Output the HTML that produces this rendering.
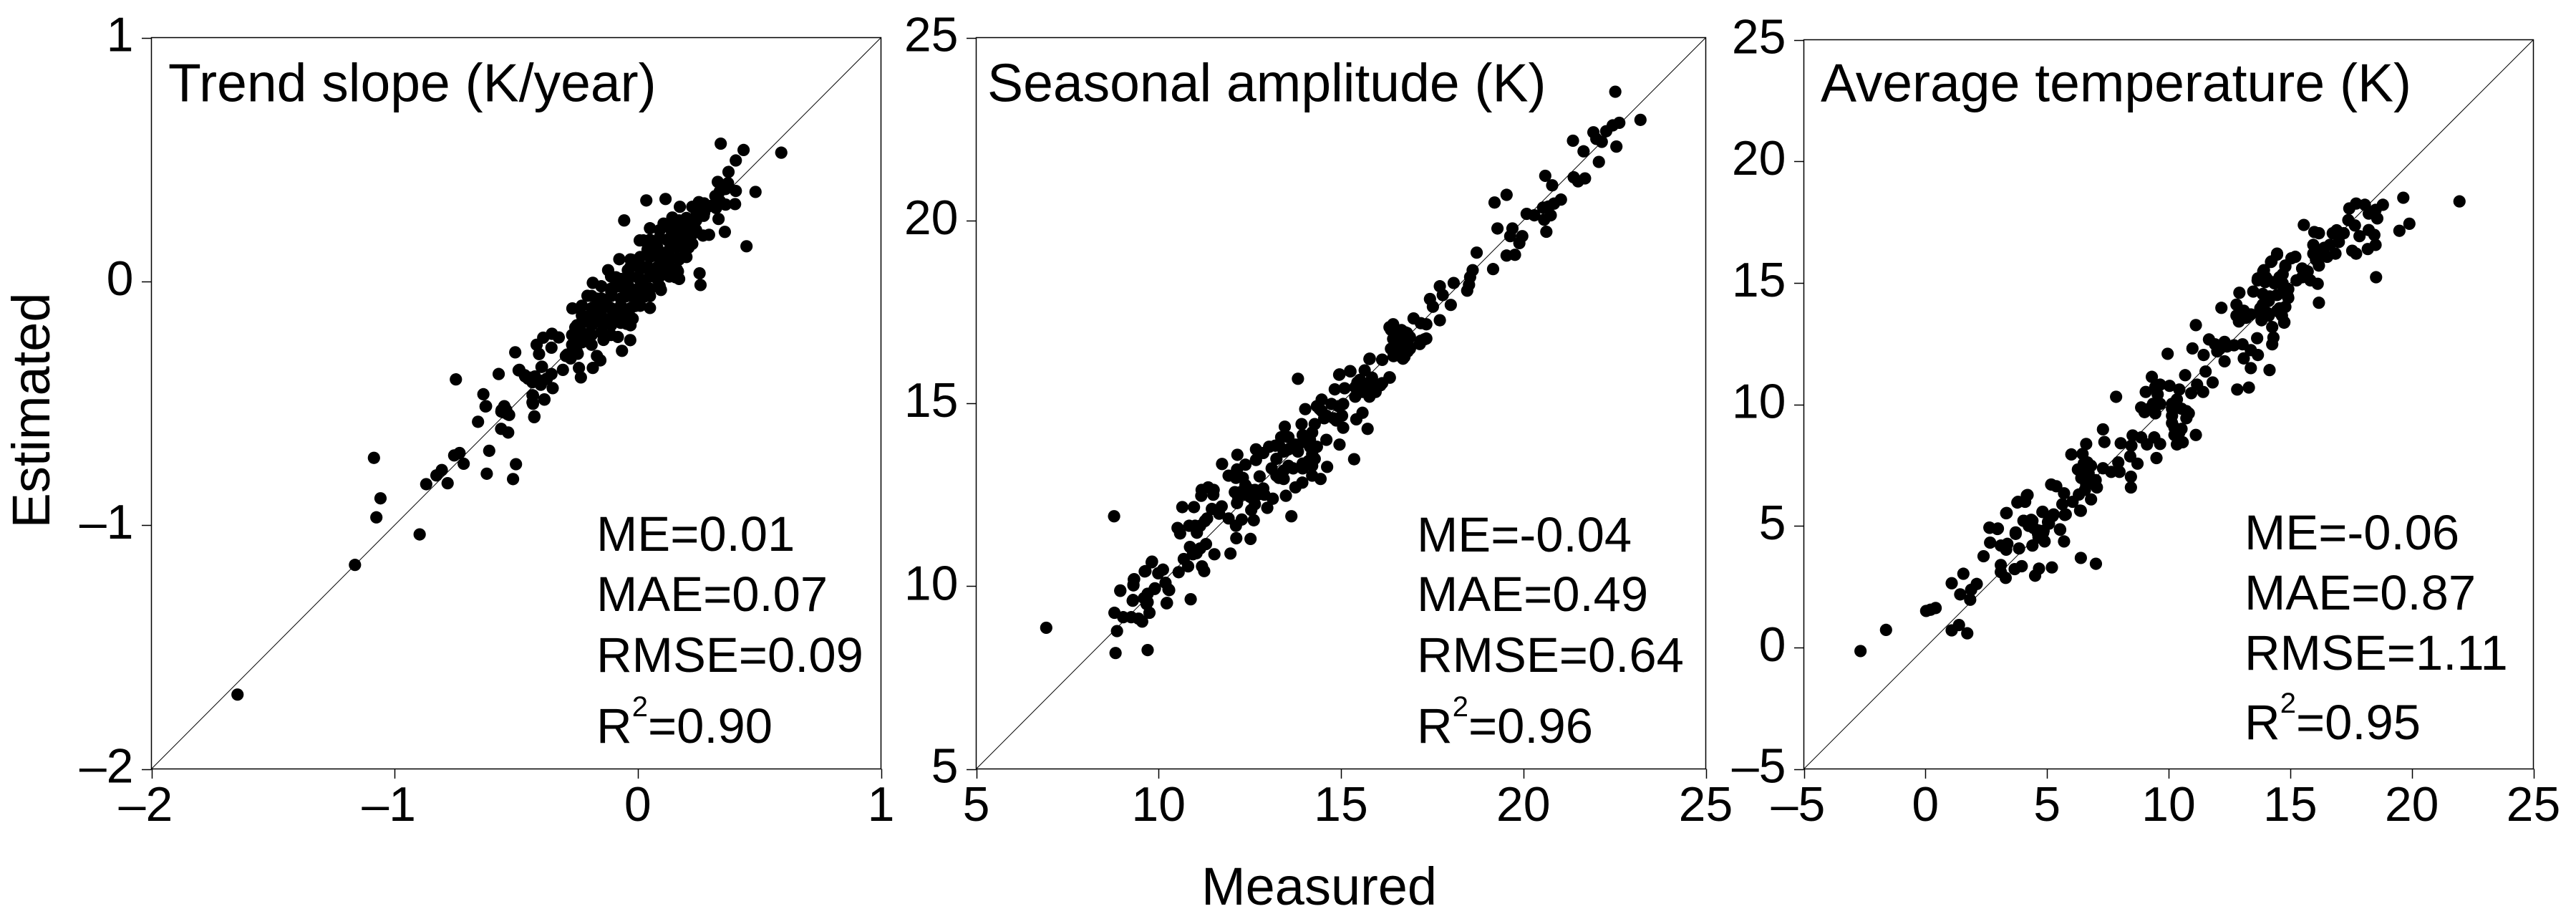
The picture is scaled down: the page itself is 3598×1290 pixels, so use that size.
<!DOCTYPE html>
<html lang="en">
<head>
<meta charset="utf-8">
<title>Measured vs estimated scatter plots</title>
<style>
html,body{margin:0;padding:0;background:#fff;width:3598px;height:1290px;overflow:hidden}
svg{display:block}
text{font-family:"Liberation Sans",Arial,sans-serif;fill:#000}
.title{font-size:75.1px}
.stat{font-size:68.8px}
.axis-title{font-size:74px}
</style>
</head>
<body>
<svg id="figure" width="3598" height="1290" viewBox="0 0 3598 1290" xmlns="http://www.w3.org/2000/svg">
<rect x="0" y="0" width="3598" height="1290" fill="#fff"/>
<g id="panel-trend"></g>
<g id="panel-season"></g>
<g id="panel-average"></g>

<text class="title" x="235" y="141.5">Trend slope (K/year)</text>
<text class="title" x="1379" y="141.5">Seasonal amplitude (K)</text>
<text class="title" x="2543" y="141.5">Average temperature (K)</text>

<g>
<text class="stat" x="833" y="769">ME=0.01</text>
<text class="stat" x="833" y="853">MAE=0.07</text>
<text class="stat" x="833" y="938">RMSE=0.09</text>
<text class="stat" x="833" y="1037">R<tspan font-size="40" dy="-37">2</tspan><tspan dy="37">=0.90</tspan></text>
</g>
<g>
<text class="stat" x="1979" y="770">ME=-0.04</text>
<text class="stat" x="1979" y="853">MAE=0.49</text>
<text class="stat" x="1979" y="938">RMSE=0.64</text>
<text class="stat" x="1979" y="1037">R<tspan font-size="40" dy="-37">2</tspan><tspan dy="37">=0.96</tspan></text>
</g>
<g>
<text class="stat" x="3135" y="767">ME=-0.06</text>
<text class="stat" x="3135" y="851">MAE=0.87</text>
<text class="stat" x="3135" y="935">RMSE=1.11</text>
<text class="stat" x="3135" y="1032">R<tspan font-size="40" dy="-37">2</tspan><tspan dy="37">=0.95</tspan></text>
</g>

<text class="axis-title" x="1678" y="1263">Measured</text>
<text class="axis-title" transform="translate(69 573) rotate(-90)" text-anchor="middle">Estimated</text>
</svg>

<script>
// ---- Trend slope (K/year) ----
const trendTicks = [-2, -1, 0, 1];
const trendMeasured = [
 -1.646,-1.163,-1.085,-1.058,-1.075,-.897,-.870,-.828,-.806,-.782,-.755,-.733,-.716,-.748,-.635,-.626,-.572,-.657,-.611,-.621,
 -.513,-.501,-.533,-.562,-.553,-.535,-.56,-.504,-.487,-.465,-.445,-.426,-.433,-.433,-.384,-.406,-.416,-.389,-.396,
 .341,.435,.590,.403,.373,.329,.371,.403,.484,.319,.337,.361,.400,.035,.114,.173,.251,.224,.273,.271,.332,.358,
 -.056,.142,.106,.050,.190,.165,.239,.008,.023,.293,.268,.447,.254,.258,.050,.095,.165,.155,.195,.209,.224,
 -.076,-.023,-.122,-.185,-.207,-.269,-.257,-.266,-.031,-.065,-.082,-.021,-.046,-.141,-.168,-.154,-.185,-.242,-.234,-.308,
 -.355,-.389,-.353,-.325,-.490,-.463,-.451,-.423,-.394,-.355,-.374,-.399,-.350,-.431,-.431,-.384,-.425,-.624,-.549,-.541,-.561,-.529,
 -.227,-.188,-.168,-.129,-.109,-.149,-.090,-.070,-.051,-.090,-.041,-.002,-.011,.028,.048,.008,.077,.126,.165,.087,.136,.175,.077,.136,.185,
 -.217,-.227,-.266,-.276,-.247,-.109,-.149,-.051,-.011,.028,-.090,-.041,.195,.126,.087,.126,.204,.273,.303,-.296,.224,
 .05,.09,.12,.17,.21, .04,.08,.13,.16,.20, -.03,.01,.05,.09,.12,.17,.2,
 -.03,.01,.04,.09,.13,.16, -.11,-.07,-.03,.01,.05,.08,.13,.17,
 -.15,-.11,-.07,-.03,.01,.05,.09, -.19,-.15,-.11,-.07,-.03,.01,.05, -.23,-.19,-.15,-.11,-.07,-.03,.01,
 -.23,-.19,-.15,-.11,-.07,-.03, -.25,-.23,-.19,-.15,-.11,-.07,-.03, -.27,-.23,-.19,-.15,-.11,
 -.27,-.23,-.19, -.29,-.25, .09,.13,.17,.2,.24, .17,.2,.24, .24,.28, -.433,.322,.361,.337
];
const trendEstimated = [
 -1.695,-1.163,-.724,-.890,-.968,-1.038,-.832,-.796,-.774,-.828,-.714,-.704,-.748,-.402,-.463,-.513,-.380,-.576,-.695,-.789,
 -.811,-.750,-.620,-.605,-.537,-.545,-.528,-.291,-.363,-.385,-.395,-.557,-.496,-.467,-.484,-.298,-.260,-.407,-.351,
 .565,.539,.528,.496,.449,.408,.403,.371,.367,.350,.330,.315,.317,.332,.338,.306,.325,.306,.320,.269,.256,.203,
 .250,.262,.237,.218,.237,.227,.262,.168,.168,.191,.188,.144,.033,-.015,-.109,-.035,.041,.017,.105,.139,.193,
 .091,.088,.046,-.006,-.059,-.111,-.189,-.223,-.241,-.285,-.228,-.153,-.174,-.240,-.306,-.324,-.355,-.355,-.394,-.363,
 -.272,-.231,-.215,-.230,-.365,-.390,-.399,-.390,-.350,-.380,-.399,-.424,-.438,-.468,-.502,-.485,-.554,-.512,-.512,-.527,-.534,-.548,
 -.159,-.120,-.071,-.101,-.042,-.150,-.140,-.101,-.062,-.022,-.013,.017,-.042,-.022,.046,.066,.056,.076,.095,.124,.154,.144,.164,.183,.203,
 -.218,-.248,-.277,-.316,-.297,-.179,-.208,-.120,-.101,-.062,.017,.046,.173,.115,.017,.036,.222,.281,.310,-.306,.154,
 .17,.18,.17,.18,.17, .13,.14,.13,.14,.13, .09,.1,.1,.09,.1,.09,.1,
 .06,.05,.06,.05,.06,.05, .02,.01,.02,.01,.02,.01,.02,.01,
 -.02,-.03,-.02,-.03,-.02,-.03,-.02, -.06,-.07,-.06,-.07,-.06,-.07,-.06, -.1,-.11,-.1,-.11,-.1,-.11,-.1,
 -.14,-.15,-.14,-.15,-.14,-.15, -.18,-.17,-.18,-.17,-.18,-.17,-.18, -.22,-.21,-.22,-.21,-.22,
 -.26,-.25,-.26, -.3,-.29, .21,.22,.21,.22,.21, .25,.26,.25, .29,.3, -.414,.301,.379,.369
];

// ---- Seasonal amplitude (K) ----
const seasonTicks = [5, 10, 15, 20, 25];
const seasonMeasured = [
 8.78,10.65,10.97,10.52,10.59,10.84,11.05,11.14,11.27,11.46,11.73,11.66,11.92,12.12,12.13,12.52,12.28,12.61,12.54,12.15,
 12.09,11.18,11.36,11.51,11.17,11.50,11.74,12.16,12.38,12.15,11.92,12.12,12.31,12.67,12.87,12.67,12.77,12.51,12.25,12.71,
 12.87,12.64,12.98,13.13,13.49,13.75,13.94,13.64,13.46,13.20,13.36,13.82,13.92,14.02,14.28,14.47,14.41,14.60,14.83,15.10,
 14.95,15.25,15.78,16.13,16.34,16.08,15.78,15.39,15.59,15.42,15.73,15.36,14.62,14.44,14.21,15.06,14.96,14.60,14.28,13.95,
 13.43,13.23,13.10,13.56,13.82,14.15,13.95,13.56,13.23,14.21,14.80,15.06,15.45,15.65,15.85,16.37,16.63,16.83,16.70,17.29,17.16,16.37,16.63,16.89,
 9.81,9.62,10.12,9.99,10.19,10.29,9.89,9.70,9.32,9.31,8.95,9.29,9.70,10.22,10.88,11.19,11.25,10.55,10.81,10.69,11.04,11.53,11.97,10.86,11.30,11.14,10.94,
 6.92,8.82,9.70,8.86,8.79,9.03,9.25,9.45,9.55,9.75,9.67,9.30,8.95,9.33,9.31,9.64,9.82,10.23,10.27,9.90,9.60,
 22.52,23.21,22.63,22.45,22.27,21.92,22.0,22.15,22.55,21.36,21.65,22.07,21.38,21.50,21.69,20.6,20.79,21.03,20.84,20.69,20.54,20.09,20.30,20.75,20.57,20.63,
 19.21,19.54,19.29,19.70,19.64,19.97,19.89,19.54,19.77,19.17,18.72,18.61,18.54,18.51,18.46,18.09,17.71,17.44,17.79,18.01,17.52,17.71,17.34,16.99,17.19,17.34,17.19,
 16.89,16.74,16.51,16.33,16.43,16.66,16.81,16.43,16.66,16.33,16.13,15.79,16.13,14.96,15.26,
 15.52,15.72,15.39,15.59,15.85,15.95, 14.47,14.74,14.93,15.03,14.87,14.34,14.54,
 13.30,13.56,13.75,13.95,14.15,13.43,13.03,14.34,14.21, 13.95,13.69,13.43,14.21,13.30,14.11,
 12.38,12.51,12.64,12.18,12.90,12.38, 16.5,16.70,16.76,16.50,16.83,16.44,16.89, 11.0,11.33
];
const seasonEstimated = [
 11.91,12.16,12.16,11.59,11.44,11.65,11.46,11.65,11.78,12.11,12.18,11.98,11.85,11.65,11.31,11.29,11.82,11.80,12.08,12.27,
 12.57,12.63,12.70,12.63,12.47,12.50,13.34,13.59,13.32,13.19,13.02,12.96,12.96,13.74,13.64,13.45,13.00,12.63,12.57,12.50,
 12.67,12.24,12.14,12.39,12.47,12.70,12.83,11.91,14.36,13.84,14.07,15.67,14.43,14.84,14.43,15.10,14.85,14.66,15.38,15.41,
 15.78,15.88,16.21,16.19,15.70,15.49,15.18,15.18,14.74,14.56,14.30,13.47,13.26,12.93,13.02,14.33,13.87,14.00,13.48,13.35,
 12.93,13.02,13.22,13.29,13.68,13.81,13.94,13.74,13.48,14.2,14.59,14.98,15.57,15.90,15.44,16.49,16.29,16.42,16.22,16.75,16.62,17.01,16.81,16.81,
 10.65,10.40,10.45,10.35,10.09,9.89,9.92,9.79,10.18,10.02,9.87,9.60,9.56,9.53,9.64,10.54,10.41,10.38,10.54,10.74,10.90,10.87,10.89,11.07,11.15,11.03,10.87,
 8.86,8.17,8.25,8.77,9.27,9.15,9.15,9.11,9.03,9.27,9.51,9.62,9.88,10.19,10.04,10.41,10.67,9.54,9.91,9.94,9.67,
 23.52,22.75,22.67,22.6,22.44,22.41,22.23,22.15,22.02,22.18,21.89,21.60,21.18,21.07,21.15,21.22,20.96,20.57,20.46,20.38,20.35,20.18,20.14,20.14,20.02,19.69,
 20.49,20.70,19.78,19.78,19.57,19.57,19.38,19.04,19.06,18.67,19.12,18.64,18.45,18.24,18.08,18.29,18.2,17.85,17.96,17.69,17.64,17.27,17.16,17.32,17.19,16.77,16.71,
 16.51,16.27,16.35,17.08,17.16,17.0,16.92,16.76,16.68,15.71,16.19,16.22,15.55,15.79,15.87,
 15.64,15.51,15.44,15.31,15.70,15.31, 14.79,14.98,14.92,14.66,14.53,14.92,14.59,
 13.87,14.07,13.87,14.13,14.0,13.68,13.81,13.81,13.61, 13.22,13.22,13.16,13.29,12.96,13.42,
 12.50,12.44,12.63,12.44,12.50,12.76, 16.81,16.55,16.94,16.55,16.68,16.29,16.49, 11.65,11.85
];

// ---- Average temperature (K) ----
const averageTicks = [-5, 0, 5, 10, 15, 20, 25];
const averageMeasured = [
 14.46,14.80,14.21,13.92,13.67,13.48,12.91,12.17,11.12,10.98,11.44,9.96,7.84,7.30,7.36,6.61,8.03,6.0,6.46,6.66,
 6.27,6.71,6.81,7.30,7.64,7.98,7.93,7.05,6.81,6.31,6.56,8.45,8.45,9.50,8.72,8.42,8.47,8.52,8.87,9.11,
 9.41,9.65,10.34,10.58,10.24,11.12,10.53,10.14,10.73,10.73,10.14,9.45,9.01,8.87,9.06,9.31,9.65,10.04,10.68,10.44,
 10.93,11.17,11.42,11.81,11.52,11.66,12.0,12.30,12.30,12.69,13.04,13.38,14.15,12.82,13.30,13.09,13.67,13.38,13.64,14.26,
 14.31,14.26,13.82,14.75,12.79,13.09,12.89,13.38,13.87,14.16,14.36,14.66,14.90,14.56,15.05,
 4.20,3.81,4.1,3.34,5.17,5.38,5.70,5.63,5.23,5.73,6.05,6.36,4.82,4.35,4.04,2.63,2.98,3.71,5.04,5.53,4.65,
 -2.67,-1.62,.03,.21,.42,1.08,1.38,1.72,1.08,1.56,1.43,2.11,1.88,1.84,2.39,2.64,2.96,2.66,3.10,3.37,3.32,3.32,
 3.10,3.10,3.30,3.67,3.96,3.85,3.71,4.03,4.40,3.78,4.17,4.51,4.67,5.20,6.39,7.01,5.70,5.54,4.40,4.90,4.81,4.86,4.63,5.27,5.08,5.77,6.39,
 21.96,19.65,19.90,19.49,18.53,16.18,18.81,18.51,17.43,17.71,18.07,18.58,17.39,17.66,18.23,18.23,18.46,17.85,17.55,18.19,18.51,17.71,
 15.56,15.99,16.18,16.75,16.91,17.2,17.0,16.52,16.86,15.95,16.4,16.06,15.72,16.18,15.83,16.13,15.26,15.49,15.21,14.8,14.46,14.23,13.89,13.66,14.69,14.92,14.76,
 6.61,6.41,6.71,7.0,6.51,6.81,6.61, 13.97,13.87,13.77,14.07,14.66,14.07,14.75,14.07,14.46,14.56,
 10.14,10.53,10.44,10.24,10.83,10.34,10.14, 9.36,9.55,9.21,9.65,9.45, 12.1,12.4,11.91, 12.99,13.18,12.79,
 4.45,4.25,4.84,4.65, 16.29,16.63,15.95,15.49, 14.35,14.46,14.69,14.0,14.92,14.58,14.8,14.12,14.12,13.77
];
const averageEstimated = [
 16.16,15.67,15.86,15.52,15.18,14.64,14.59,13.97,13.26,12.30,12.03,12.08,10.31,8.97,8.45,8.37,8.40,7.94,7.96,7.61,
 7.32,7.17,6.78,7.37,7.22,7.22,7.61,6.58,6.09,6.29,6.48,7.02,6.58,7.79,7.56,7.86,8.30,8.72,8.64,8.35,
 8.64,8.37,8.35,8.44,8.74,8.74,8.99,9.23,9.43,9.72,9.82,9.63,9.68,9.87,10.51,11.13,10.81,10.76,11.20,10.61,
 10.46,10.81,10.51,10.90,11.35,12.67,12.18,12.57,11.77,12.43,12.47,11.49,11.41,10.61,10.69,11.89,12.03,12.23,12.72,12.47,
 12.75,13.18,13.46,13.36,14.10,13.85,13.41,13.70,14.10,14.44,15.03,14.93,14.44,13.95,16.01,
 6.27,5.99,5.99,5.53,6.70,6.63,6.34,5.89,5.40,5.45,5.99,5.63,5.58,5.25,5.21,4.93,4.89,4.73,5.16,4.86,4.81,
 -.15,.72,1.50,1.55,1.62,.70,.92,.58,2.64,3.03,2.18,2.61,2.37,1.96,3.75,4.92,4.87,4.31,4.19,4.26,4.02,5.52,
 3.39,3.10,2.86,3.22,3.34,4.07,4.67,5.21,5.21,5.96,6.25,2.95,3.24,3.29,3.68,3.44,4.36,4.84,4.19,4.36,5.57,4.80,4.67,5.47,5.09,5.47,5.62,
 18.35,18.50,17.43,17.14,15.23,14.18,18.21,18.0,18.06,18.26,18.21,17.65,17.58,17.36,17.85,17.17,16.97,16.92,16.32,16.39,16.56,16.2,
 17.38,17.09,17.04,17.04,17.16,17.04,16.68,16.07,16.2,16.56,16.44,15.95,15.47,15.71,15.1,14.96,15.1,15.59,16.07,15.71,16.2,15.88,15.47,15.1,14.98,14.38,13.38,
 7.27,6.97,6.88,6.88,7.56,7.47,6.68, 15.03,14.54,13.95,13.75,13.65,15.13,14.64,14.24,13.85,15.23,
 9.53,9.82,8.84,9.04,9.63,10.2,10.02, 10.02,10.41,9.82,10.02,10.71, 12.28,12.38,12.47, 13.65,13.56,13.65,
 4.91,5.0,4.72,4.52, 16.2,16.56,16.2,15.23, 14.98,14.5,15.35,15.23,14.74,13.77,14.01,14.26,13.65,13.77
];

const SVG_NS = 'http://www.w3.org/2000/svg';
const DOT_RADIUS = 8.6;
const TICK_LENGTH = 13.5;
const LINE_WIDTH = 1.5;

function make(tag, parent, attrs) {
  const el = document.createElementNS(SVG_NS, tag);
  for (const k in attrs) el.setAttribute(k, attrs[k]);
  parent.appendChild(el);
  return el;
}

function drawPanel(cfg) {
  const g = document.getElementById(cfg.id);
  const ticks = cfg.ticks;
  const lo = ticks[0], hi = ticks[ticks.length - 1];
  const xScale = v => cfg.left + (v - lo) / (hi - lo) * (cfg.right - cfg.left);
  const yScale = v => cfg.bottom - (v - lo) / (hi - lo) * (cfg.bottom - cfg.top);

  const frame = make('rect', g, {x: cfg.left, y: cfg.top, width: cfg.right - cfg.left, height: cfg.bottom - cfg.top, fill: 'none', stroke: '#000', 'stroke-width': LINE_WIDTH});
  
  

  const diag = make('line', g, {x1: xScale(lo), y1: yScale(lo), x2: xScale(hi), y2: yScale(hi), stroke: '#000', 'stroke-width': 1});
  
  

  ticks.forEach(t => {
    const xt = make('line', g, {x1: Math.round(xScale(t)) + 0.5, y1: cfg.bottom, x2: Math.round(xScale(t)) + 0.5, y2: cfg.bottom + TICK_LENGTH, stroke: '#000', 'stroke-width': LINE_WIDTH});
    
    
    const yt = make('line', g, {x1: cfg.left - TICK_LENGTH, y1: Math.round(yScale(t)) + 0.5, x2: cfg.left, y2: Math.round(yScale(t)) + 0.5, stroke: '#000', 'stroke-width': LINE_WIDTH});
    
    

    const label = t < 0 ? '\u2013' + Math.abs(t) : String(t);
    const xl = make('text', g, {x: xScale(t) - (t < 0 ? 8 : 0), y: 1146, 'text-anchor': 'middle', 'font-size': 68});
    xl.textContent = label;
    
    
    const yl = make('text', g, {x: cfg.left - 25, y: yScale(t) + 19, 'text-anchor': 'end', 'font-size': 68});
    yl.textContent = label;
    
    
  });

  const n = Math.min(cfg.measured.length, cfg.estimated.length);
  for (let i = 0; i < n; i++) {
    const dot = make('circle', g, {cx: xScale(cfg.measured[i]), cy: yScale(cfg.estimated[i]), r: DOT_RADIUS, fill: '#000'});
    
    
  }
}

drawPanel({id: 'panel-trend', left: 211.5, right: 1230.5, top: 52.5, bottom: 1073.5, ticks: trendTicks, measured: trendMeasured, estimated: trendEstimated});
drawPanel({id: 'panel-season', left: 1363.5, right: 2382.5, top: 52.5, bottom: 1073.5, ticks: seasonTicks, measured: seasonMeasured, estimated: seasonEstimated});
drawPanel({id: 'panel-average', left: 2519.5, right: 3538.5, top: 55.5, bottom: 1073.5, ticks: averageTicks, measured: averageMeasured, estimated: averageEstimated});
</script>
</body>
</html>
